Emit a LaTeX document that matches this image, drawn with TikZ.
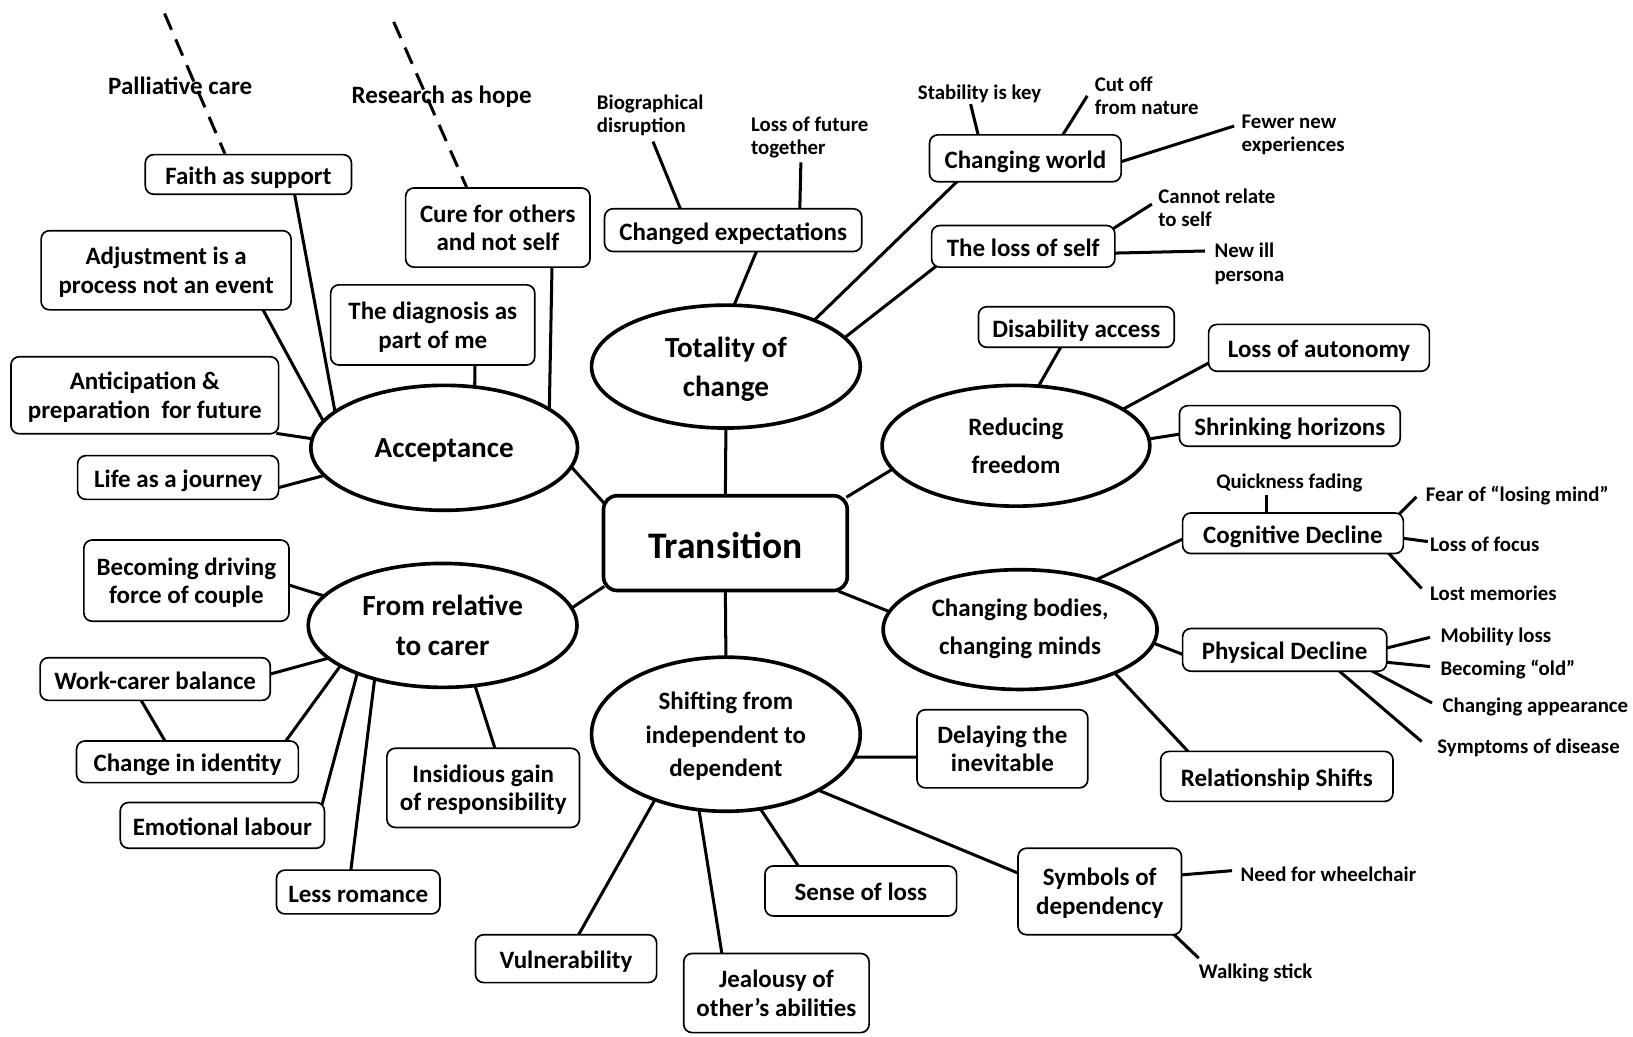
\documentclass[tikz,border=0pt]{standalone}
\usepackage{fontspec}
\setmainfont{Carlito}
\usetikzlibrary{shapes.geometric,backgrounds}
\newcommand\fntS{\fontsize{20}{22.5}\selectfont\bfseries}
\newcommand\fntB{\fontsize{24}{27.5}\selectfont\bfseries}
\newcommand\fntE{\fontsize{28}{38}\selectfont\bfseries}
\newcommand\fntM{\fontsize{24}{36.5}\selectfont\bfseries}
\newcommand\fntH{\fontsize{24}{32}\selectfont\bfseries}
\newcommand\fntT{\fontsize{36}{40}\selectfont\bfseries}
\tikzset{
  lowtext/.style={execute at begin node={\rule{0pt}{1.05em}}, execute at end node={\rule[-0.25em]{0pt}{0.25em}}},
  midtext/.style={execute at begin node={\rule{0pt}{0.89em}}, execute at end node={\rule[-0.25em]{0pt}{0.25em}}},
  box/.style={draw, fill=white, line width=1.6pt, rounded corners=8pt, align=center, inner sep=0pt, font=\fntB, lowtext},
  mbox/.style={box, text depth=0pt},
  ell/.style={draw, fill=white, ellipse, line width=3.5pt, align=center, inner sep=0pt, midtext},
  lbl/.style={inner sep=0pt, align=left, font=\fntS},
  con/.style={line width=2.9pt, shorten <=-3pt, shorten >=-3pt},
  lcon/.style={line width=2.9pt, shorten <=-3pt},
  dline/.style={line width=2.9pt, dash pattern=on 17pt off 10pt},
}
\begin{document}
\begin{tikzpicture}[x=1pt,y=-1pt]
\useasboundingbox (0,0) rectangle (1568,995);
% centre
\node[draw, fill=white, line width=3.5pt, rounded corners=13pt, minimum width=234, minimum height=91, inner sep=0pt, font=\fntT, lowtext] (trans) at (696.5,521.5) {Transition};
% themes
\node[ell, minimum width=256, minimum height=120, font=\fntE] (acc) at (426.5,430) {Acceptance};
\node[ell, text depth=0pt, minimum width=258, minimum height=118, font=\fntE] (tot) at (697,352) {Totality of\\change};
\node[ell, text depth=0pt, minimum width=257, minimum height=116, font=\fntM] (red) at (975.5,428) {Reducing\\freedom};
\node[ell, minimum width=263, minimum height=115, font=\fntM] (cbm) at (979.5,604.5) {Changing bodies,\\changing minds};
\node[ell, text depth=0pt, minimum width=258, minimum height=119, font=\fntE] (rel) at (425,600.5) {From relative\\to carer};
\node[ell, text depth=0pt, minimum width=258, minimum height=148, font=\fntH] (shf) at (697,705) {Shifting from\\independent to\\dependent};
% sub-themes
\node[box, minimum width=198, minimum height=38] (faith) at (238.5,167.5) {Faith as support};
\node[mbox, minimum width=240, minimum height=76] (adj) at (159.5,259.5) {Adjustment is a\\process not an event};
\node[mbox, minimum width=196, minimum height=77] (diag) at (415.5,312) {The diagnosis as\\part of me};
\node[mbox, minimum width=177, minimum height=76] (cure) at (478,218.5) {Cure for others\\and not self};
\node[mbox, minimum width=257, minimum height=74] (antic) at (139,379.5) {Anticipation \&\\preparation\ \ for future};
\node[box, minimum width=193, minimum height=42] (life) at (171,458.5) {Life as a journey};
\node[box, minimum width=247, minimum height=41] (chexp) at (704,221) {Changed expectations};
\node[box, minimum width=184, minimum height=45] (cworld) at (984.5,152) {Changing world};
\node[box, minimum width=176, minimum height=40] (lself) at (982.5,236.5) {The loss of self};
\node[box, minimum width=188, minimum height=39] (disab) at (1033.5,314) {Disability access};
\node[box, minimum width=212, minimum height=45] (auto) at (1266.5,334) {Loss of autonomy};
\node[box, minimum width=212, minimum height=39] (shrink) at (1238.5,409) {Shrinking horizons};
\node[box, minimum width=212, minimum height=39] (cogn) at (1241.5,512) {Cognitive Decline};
\node[box, minimum width=196, minimum height=41] (phys) at (1233.5,624) {Physical Decline};
\node[box, minimum width=223, minimum height=48] (relsh) at (1226,745.5) {Relationship Shifts};
\node[mbox, minimum width=164, minimum height=75] (delay) at (962.5,719) {Delaying the\\inevitable};
\node[mbox, minimum width=157, minimum height=83] (symb) at (1056,856) {Symbols of\\dependency};
\node[box, minimum width=184, minimum height=48] (sense) at (826.5,855.5) {Sense of loss};
\node[mbox, minimum width=178, minimum height=76] (jeal) at (745.5,953.5) {Jealousy of\\other’s abilities};
\node[box, minimum width=174, minimum height=46] (vuln) at (543.5,920.5) {Vulnerability};
\node[mbox, minimum width=197, minimum height=78] (drive) at (179,557.5) {Becoming driving\\force of couple};
\node[box, minimum width=221, minimum height=41] (work) at (149,652) {Work-carer balance};
\node[box, minimum width=213, minimum height=40] (ident) at (180,731.5) {Change in identity};
\node[box, minimum width=196, minimum height=44] (emot) at (213.5,792.5) {Emotional labour};
\node[box, minimum width=157, minimum height=42] (roman) at (344,856.5) {Less romance};
\node[mbox, minimum width=185, minimum height=76] (insid) at (464,756.5) {Insidious gain\\of responsibility};
% free labels
\node[inner sep=0pt, font=\fntB] (pall) at (173,82) {Palliative care};
\node[inner sep=0pt, font=\fntB] (rsch) at (424,93) {Research as hope};
\node[lbl, anchor=west] (biog) at (573,110.5) {Biographical\\disruption};
\node[lbl, anchor=west] (lfut) at (721,132) {Loss of future\\together};
\node[lbl] (stab) at (940.5,90) {Stability is key};
\node[lbl, anchor=west] (cutoff) at (1051,92) {Cut off\\from nature};
\node[lbl, anchor=west] (fewer) at (1192,129.5) {Fewer new\\experiences};
\node[lbl, anchor=west] (cannot) at (1112,199.5) {Cannot relate\\to self};
\node[lbl, anchor=west] (newill) at (1166,253.5) {New ill\\persona};
\node[lbl] (quick) at (1238,463.5) {Quickness fading};
\node[lbl, anchor=west] (fear) at (1369,475.5) {Fear of “losing mind”};
\node[lbl, anchor=west] (focus) at (1373,522.5) {Loss of focus};
\node[lbl, anchor=west] (lostm) at (1373,569.5) {Lost memories};
\node[lbl, anchor=west] (mobil) at (1383,611.5) {Mobility loss};
\node[lbl, anchor=west] (becold) at (1383,642.5) {Becoming “old”};
\node[lbl, anchor=west] (chapp) at (1385,678.5) {Changing appearance};
\node[lbl, anchor=west] (sympt) at (1380,718.5) {Symptoms of disease};
\node[lbl, anchor=west] (wheel) at (1191,839.5) {Need for wheelchair};
\node[lbl, anchor=west] (walk) at (1151,934.5) {Walking stick};
% free ends of connectors
\coordinate (d1) at (158,13);
\coordinate (d2) at (378,21);
\coordinate (ebiog) at (627,136);
\coordinate (elfut) at (769,156);
\coordinate (estab) at (932,100);
\coordinate (ecut) at (1044,92);
\coordinate (efewer) at (1185,121);
\coordinate (ecannot) at (1106,196);
\coordinate (enewill) at (1157,241);
\coordinate (equick) at (1216,475);
\coordinate (efear) at (1360,477);
\coordinate (efocus) at (1371,520);
\coordinate (elostm) at (1365,565);
\coordinate (emobil) at (1373,612);
\coordinate (ebecold) at (1373,640);
\coordinate (echapp) at (1375,675);
\coordinate (esympt) at (1365,712);
\coordinate (ewheel) at (1183,836);
\coordinate (ewalk) at (1151,920);
\begin{scope}[on background layer]
% dashed
\draw[dline] (d1) -- ([xshift=-22.5]faith.north);
\draw[dline] (d2) -- ([xshift=-30]cure.north);
% centre links
\draw[con] (acc.-9.9) -- (trans.161.4);
\draw[con] (tot.south) -- (trans.north);
\draw[con] (red.191.7) -- (trans.21);
\draw[con] (cbm.172.9) -- (trans.-23.1);
\draw[con] (rel.8.8) -- (trans.200.5);
\draw[con] (shf.north) -- (trans.south);
% acceptance
\draw[con] ([xshift=44.5]faith.south) -- (acc.161);
\draw[con] ([xshift=93.5]adj.south) -- (acc.167.7);
\draw[con] (antic.-16.5) -- (acc.176.5);
\draw[con] ([yshift=-9.5]life.east) -- (acc.193.3);
\draw[con] ([xshift=40.5]diag.south) -- (acc.64.2);
\draw[con] ([xshift=52]cure.south) -- (acc.21.7);
% totality
\draw[con] ([xshift=22]chexp.south) -- (tot.82.6);
\draw[con] ([xshift=-66.5]cworld.south) -- (tot.28.1);
\draw[con] ([xshift=3]lself.south west) -- (tot.14.4);
\draw[lcon] ([xshift=-51]chexp.north) -- (ebiog);
\draw[lcon] ([xshift=64]chexp.north) -- (elfut);
\draw[lcon] ([xshift=-45.5]cworld.north) -- (estab);
\draw[lcon] ([xshift=36.5]cworld.north) -- (ecut);
\draw[lcon] ([yshift=-3]cworld.east) -- (efewer);
\draw[lcon] ([yshift=18.5]lself.east) -- (ecannot);
\draw[lcon] ([yshift=-6.5]lself.east) -- (enewill);
% reducing freedom
\draw[con] ([xshift=-15.5]disab.south) -- (red.69.8);
\draw[con] ([yshift=-15]auto.west) -- (red.19.3);
\draw[con] ([yshift=-8]shrink.west) -- (red.3.1);
% changing bodies
\draw[con] ([yshift=-6]cogn.west) -- (cbm.33.1);
\draw[con] ([yshift=-4]phys.west) -- (cbm.-6);
\draw[con] ([xshift=-86]relsh.north) -- (cbm.-25.9);
\draw[lcon] ([xshift=-25.5]cogn.north) -- (equick);
\draw[lcon] ([xshift=-3]cogn.north east) -- (efear);
\draw[lcon] ([yshift=-5]cogn.east) -- (efocus);
\draw[lcon] ([xshift=-14]cogn.south east) -- (elostm);
\draw[lcon] ([yshift=2]phys.east) -- (emobil);
\draw[lcon] ([yshift=-12]phys.east) -- (ebecold);
\draw[lcon] ([xshift=-13]phys.south east) -- (echapp);
\draw[lcon] ([xshift=53.5]phys.south) -- (esympt);
% shifting
\draw[con] ([yshift=-8]delay.west) -- (shf.-10.8);
\draw[con] ([yshift=18]symb.west) -- (shf.-31.9);
\draw[con] ([xshift=-60.5]sense.north) -- (shf.-65.3);
\draw[con] ([xshift=-52.5]jeal.north) -- (shf.-109.8);
\draw[con] ([xshift=12.5]vuln.north) -- (shf.-137.1);
\draw[lcon] ([yshift=16]symb.east) -- (ewheel);
\draw[lcon] ([xshift=-7]symb.south east) -- (ewalk);
% relative to carer
\draw[con] ([yshift=-4.5]drive.east) -- (rel.166.8);
\draw[con] ([yshift=5]work.east) -- (rel.196.3);
\draw[con] ([xshift=-13]work.south) -- ([xshift=-22]ident.north);
\draw[con] ([xshift=95]ident.north) -- (rel.202);
\draw[con] ([xshift=96.5]emot.north) -- (rel.210.8);
\draw[con] ([xshift=-7]roman.north) -- (rel.219.1);
\draw[con] ([xshift=11]insid.north) -- (rel.-62.9);
\end{scope}
\end{tikzpicture}
\end{document}
